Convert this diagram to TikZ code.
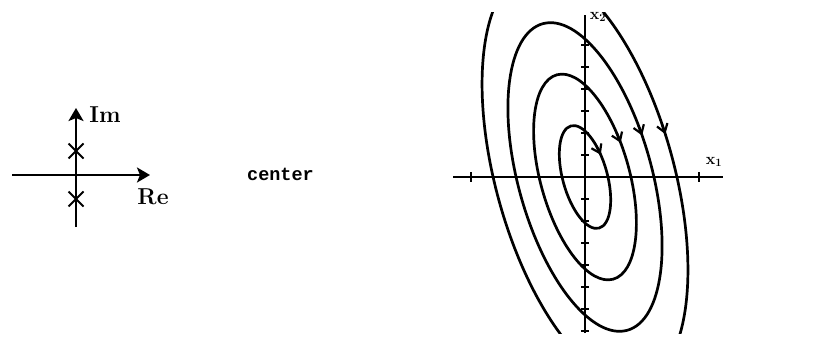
\documentclass[tikz,border=0pt]{standalone}
\usepackage{fontspec}
\newfontfamily\monofont{Liberation Mono}
\usetikzlibrary{arrows.meta}
\begin{document}
\begin{tikzpicture}[x=1pt,y=1pt,
  curve/.style={line width=2.7pt},
  axisline/.style={line width=2.2pt},
  tickmark/.style={line width=1.6pt},
  bigarrow/.style={line width=2.8pt,-{Stealth[length=13pt,width=15pt,inset=3pt]}},
  flowtip/.style={line width=2.2pt,-{Straight Barb[length=8pt,width=11pt]}},
  polemark/.style={line width=2pt},
  bigtext/.style={font=\bfseries\fontsize{23}{23}\selectfont,inner sep=0pt},
  smalltext/.style={font=\bfseries\fontsize{16}{16}\selectfont,inner sep=0pt},
  monotext/.style={font=\monofont\bfseries\fontsize{18.5}{18.5}\selectfont,inner sep=0pt}]
\useasboundingbox (0,0) rectangle (832,343);
% ---------- left: pole diagram ----------
\coordinate (L) at (76,168);
\coordinate (Lw) at (12,168);
\coordinate (Le) at (150,168);
\coordinate (Ls) at (76,116);
\coordinate (Ln) at (76,235);
\draw[bigarrow] (Lw) -- (Le);
\draw[bigarrow] (Ls) -- (Ln);
\coordinate (pu) at (76,192);
\coordinate (pd) at (76,144);
\foreach \n in {pu,pd}{
  \draw[polemark] ([shift={(-7.5,-7.5)}]\n) -- ([shift={(7.5,7.5)}]\n);
  \draw[polemark] ([shift={(-7.5,7.5)}]\n) -- ([shift={(7.5,-7.5)}]\n);
}
\node[bigtext] (im) at (105,228) {Im};
\node[bigtext] (re) at (153,146) {Re};
% ---------- middle label ----------
\node[monotext] (ctr) at (280.5,169) {center};
% ---------- right: phase portrait ----------
\coordinate (O) at (585,166);
\coordinate (Ow) at (453,166);
\coordinate (Oe) at (723,166);
\coordinate (Os) at (585,10);
\coordinate (On) at (585,328);
\draw[axisline] (Ow) -- (Oe);
\draw[axisline] (Os) -- (On);
\foreach \i in {1,...,6}{\draw[tickmark] (581,166+22*\i) -- (589,166+22*\i);}
\foreach \i in {1,...,7}{\draw[tickmark] (581,166-22*\i) -- (589,166-22*\i);}
\draw[tickmark] (471,161) -- (471,171);
\draw[tickmark] (699,161) -- (699,171);
\node[smalltext] (xtwo) at (598,326) {x\textsubscript{2}};
\node[smalltext] (xone) at (714,181) {x\textsubscript{1}};
\begin{scope}[shift={(585,166)},rotate=15.4]
  \foreach \k in {1,2,3}{\draw[curve] (0,0) ellipse [x radius=22.3pt*\k, y radius=53pt*\k];}
\end{scope}
\begin{scope}
  \clip (440,10) rectangle (760,330);
  \draw[curve,shift={(585,166)},rotate=15.4] (0,0) ellipse [x radius=89.2pt, y radius=213pt];
\end{scope}
\begin{scope}[shift={(585,166)},rotate=15.4]
  \foreach \k/\t/\d in {1/19/11,2/12.8/6,3/9/4,4/5.4/3}{
    \draw[flowtip] ({22.3*\k*cos(\t+\d)},{53*\k*sin(\t+\d)}) -- ({22.3*\k*cos(\t)},{53*\k*sin(\t)});
  }
\end{scope}
\end{tikzpicture}
\end{document}
